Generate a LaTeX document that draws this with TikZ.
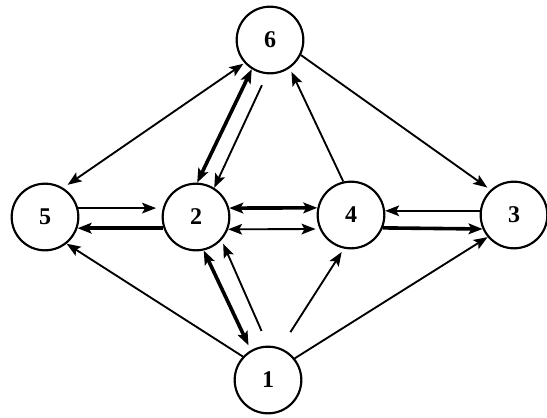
\documentclass[tikz,border=0pt]{standalone}
\usepackage{fontspec}
\setmainfont{Liberation Serif}
\usetikzlibrary{arrows.meta}
\begin{document}
\begin{tikzpicture}[x=0.75pt,y=-0.75pt,
  vertex/.style={circle,draw,line width=1.6pt,minimum size=50pt,inner sep=0pt,
    font=\fontsize{18}{18}\selectfont\bfseries},
  lite/.style={line width=1.4pt},
  heavy/.style={line width=2.7pt},
  >={Stealth[length=10.5pt,width=8pt,inset=2.2pt]}]
\path[use as bounding box] (0,0) rectangle (547,418);

% vertices
\node[vertex] (n6) at (270,40)  {6};
\node[vertex] (n5) at (45,217)  {5};
\node[vertex] (n2) at (196,217) {2};
\node[vertex] (n4) at (351,215) {4};
\node[vertex] (n3) at (514,215) {3};
\node[vertex] (n1) at (268,380) {1};

% arcs around vertex 6
\draw[lite,<->,shorten >=4pt,shorten <=1pt] (n6.222) -- (n5.58);
\draw[heavy,<->] (n6.238) -- (n2.88);
\draw[lite,->,shorten <=9pt] (n6.265) -- (n2.58);
\draw[lite,->,shorten >=3pt] (n4.103) -- (n6.305);
\draw[lite,->,shorten >=3pt] (n6.334) -- (n3.133);

% horizontal arcs
\draw[lite,->,shorten >=5pt] (n5.15) -- (n2.165);
\draw[heavy,->] (n2.199) -- (n5.341);
\draw[heavy,<->] (n2.15) -- (n4.168);
\draw[lite,<->,shorten >=3pt] (n2.339) -- (n4.204);
\draw[lite,->] (n3.173) -- (n4.7);
\draw[heavy,->] (n4.338) -- (n3.204);

% arcs around vertex 1
\draw[lite,->] (n1.137) -- (n5.309);
\draw[heavy,<->,shorten >=4pt] (n2.283) -- (n1.120);
\draw[lite,->,shorten <=12pt,shorten >=3pt] (n1.90) -- (n2.318);
\draw[lite,->,shorten <=14pt,shorten >=3pt] (n1.69) -- (n4.258);
\draw[lite,->] (n1.39) -- (n3.220);
\end{tikzpicture}
\end{document}
